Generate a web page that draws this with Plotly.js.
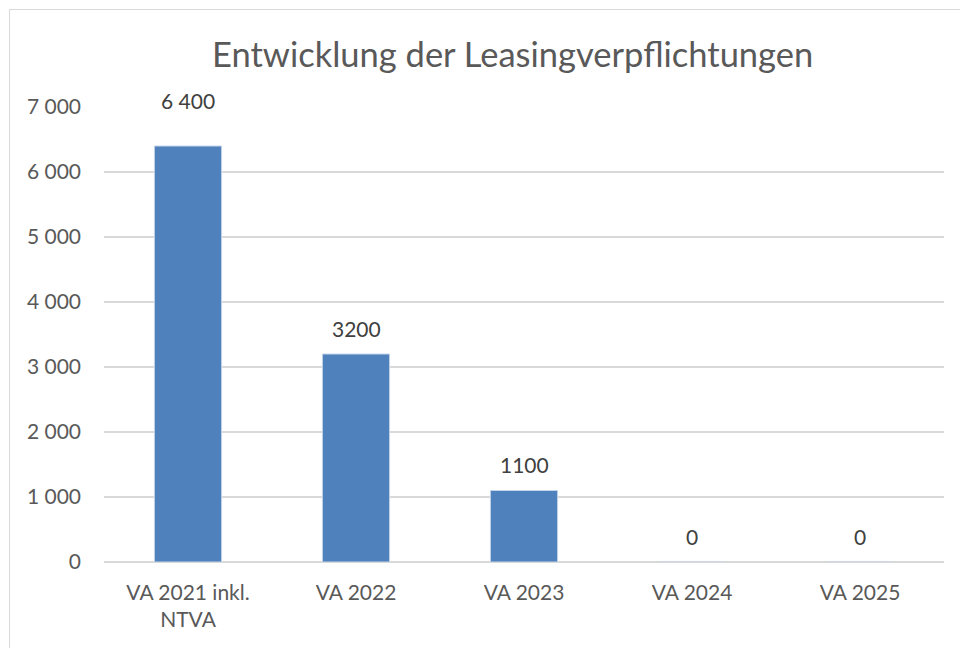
<!DOCTYPE html>
<html>
<head>
<meta charset="utf-8">
<script src="https://cdn.plot.ly/plotly-3.0.1.min.js"></script>
<style>
html,body{margin:0;padding:0;background:#fff;overflow:hidden;}
#wrap{position:relative;width:960px;height:648px;overflow:hidden;}
#chart{position:absolute;left:0;top:0;width:960px;height:648px;}
#frame{position:absolute;left:9px;top:9px;width:1000px;height:1000px;border:1px solid #d9d9d9;pointer-events:none;}
</style>
</head>
<body>
<div id="wrap"><div id="chart"></div><div id="frame"></div></div>
<script>
const categories = ["VA 2021 inkl.<br>NTVA", "VA 2022", "VA 2023", "VA 2024", "VA 2025"];
const values = [6400, 3200, 1100, 0, 0];
const valueLabels = ["6 400", "3200", "1100", "0", "0"];
const yTicks = [0, 1000, 2000, 3000, 4000, 5000, 6000, 7000];

const fontFam = "Lato, 'Open Sans', sans-serif";
const txtColor = "#595959";
const labelShift = [46, 26, 26, 26, 26];

const trace = {
  type: "bar",
  x: categories,
  y: values,
  marker: {color: "#4F81BD", line: {color: "#c6d5ea", width: 1}},
  hoverinfo: "none"
};

const annotations = categories.map((c, i) => ({
  x: c, y: values[i], xref: "x", yref: "y",
  text: valueLabels[i], showarrow: false,
  yshift: labelShift[i],
  font: {family: fontFam, size: 21, color: "#404040"}
}));

const layout = {
  width: 960, height: 648,
  paper_bgcolor: "#fff", plot_bgcolor: "#fff",
  margin: {l: 104, r: 16, t: 107, b: 86},
  separators: ". ",
  title: {text: "Entwicklung der Leasingverpflichtungen", xref: "container", x: 0.534, xanchor: "center",
          yref: "container", y: 0.915, yanchor: "middle",
          font: {family: fontFam, size: 34.5, color: txtColor}},
  bargap: 0.6,
  showlegend: false,
  xaxis: {tickfont: {family: fontFam, size: 21, color: txtColor}, showline: false, ticks: "", showgrid: false,
          zeroline: false, ticklabelstandoff: 16},
  yaxis: {range: [0, 7000], tickvals: yTicks, tickformat: ",d",
          tickfont: {family: fontFam, size: 21, color: txtColor},
          gridcolor: "#d9d9d9", gridwidth: 1.5, zeroline: true, zerolinecolor: "#d9d9d9", zerolinewidth: 1.5,
          showline: false, ticks: "", ticklabelstandoff: 22},
  annotations: annotations
};

Plotly.newPlot("chart", [trace], layout, {displayModeBar: false, staticPlot: true});
</script>
</body>
</html>
